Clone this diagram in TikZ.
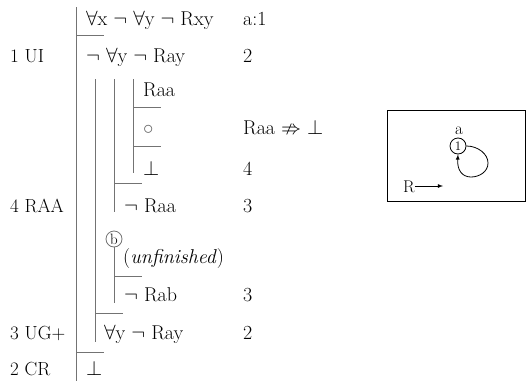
\documentclass[tikz,border=0pt]{standalone}
\usepackage{amssymb}
\usepackage{amsmath}
\usepackage{xcolor}
\usepackage{tikz}
\usetikzlibrary{arrows,positioning}

\tikzset{
  fitch/.style={draw=black!55, line width=0.8pt},
  fml/.style={anchor=base west, inner sep=0pt, font=\fontsize{20}{24}\selectfont},
  rule/.style={fml, font=\fontsize{19}{22}\selectfont},
  modeltext/.style={inner sep=0pt, font=\fontsize{17}{20}\selectfont}
}

\begin{document}
\begin{tikzpicture}[x=1pt,y=-1pt]
\useasboundingbox (0,0) rectangle (529,383);

% scope lines
\draw[fitch] (76,7) -- (76,381);
\draw[fitch] (95,79) -- (95,342);
\draw[fitch] (114,79) -- (114,212);
\draw[fitch] (133,79) -- (133,173);

\draw[fitch] (76,35) -- (104,35);
\draw[fitch] (133,107) -- (161,107);
\draw[fitch] (133,146) -- (161,146);
\draw[fitch] (114,183) -- (142,183);
\draw[fitch] (114,276) -- (142,276);
\draw[fitch] (95,313) -- (123,313);
\draw[fitch] (76,352) -- (104,352);

\node[fitch, circle, minimum size=16pt, inner sep=0pt, font=\fontsize{15}{16}\selectfont] (b) at (114,239) {b};
\draw[fitch] (b.south) -- (114,303);

% formulas
\node[fml] (f1) at (86,25) {$\forall$x $\neg$ $\forall$y $\neg$ Rxy};
\node[fml] (f2) at (86,62) {$\neg$ $\forall$y $\neg$ Ray};
\node[fml] (f3) at (143,96) {Raa};
\node[fml, text=black!60] (f4) at (143,134) {$\circ$};
\node[fml] (f5) at (143,175) {$\bot$};
\node[fml] (f6) at (124,212) {$\neg$ Raa};
\node[fml] (f7) at (123,263) {(\textit{unfinished})};
\node[fml] (f8) at (124,301) {$\neg$ Rab};
\node[fml] (f9) at (104,339) {$\forall$y $\neg$ Ray};
\node[fml] (f10) at (86,375) {$\bot$};

% rules
\node[rule] (u1) at (10,62) {1 UI};
\node[rule] (u2) at (10,212) {4 RAA};
\node[rule] (u3) at (10,339) {3 UG+};
\node[rule] (u4) at (10,375) {2 CR};

% notes
\node[fml] (n1) at (243,25) {a:1};
\node[fml] (n2) at (243,62) {2};
\node[fml] (n3) at (243,134) {Raa $\nRightarrow$ $\bot$};
\node[fml] (n4) at (243,175) {4};
\node[fml] (n5) at (243,212) {3};
\node[fml] (n6) at (243,301) {3};
\node[fml] (n7) at (243,339) {2};

% model
\draw[line width=0.8pt] (387,110) rectangle (525,201);
\node[draw, circle, line width=0.8pt, minimum size=16pt, inner sep=0pt, font=\fontsize{13}{14}\selectfont] (o1) at (458,146) {1};
\node[modeltext, anchor=base] (la) at (459,134) {a};
\draw[-latex, line width=0.8pt] (o1.east) .. controls (478,146) and (488,154) .. (488,163)
  .. controls (488,172) and (479,177) .. (471,177)
  .. controls (462,177) and (457,170) .. (o1.south);
\node[modeltext, anchor=base west] (R) at (403,192) {R};
\coordinate (Rend) at (443,186);
\draw[-latex, line width=0.8pt] (R.east |- Rend) -- (Rend);
\end{tikzpicture}
\end{document}
